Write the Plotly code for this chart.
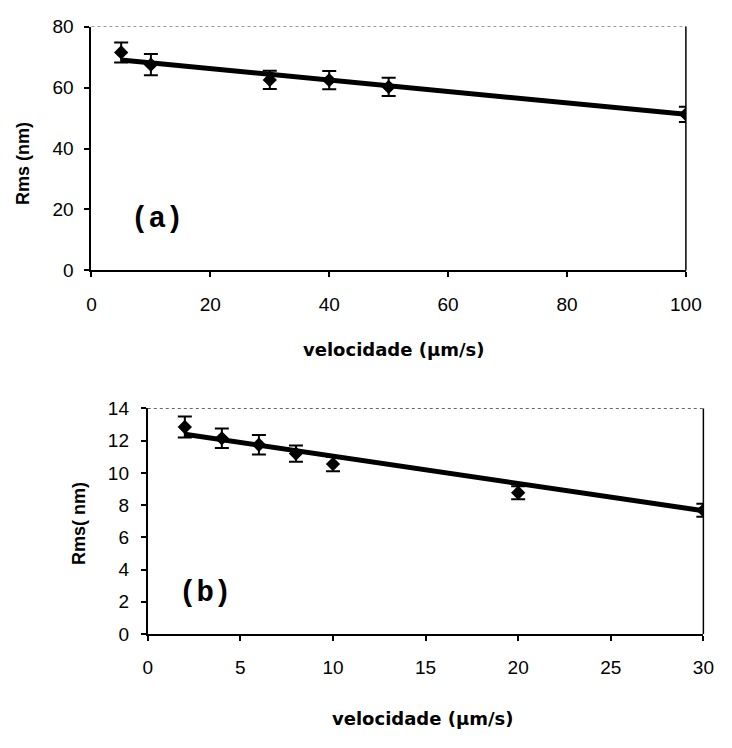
import plotly.graph_objects as go

# ---- data (a) ----
vel_a = [5, 10, 30, 40, 50, 100]
rms_a = [71.5, 67.5, 62.5, 62.4, 60.2, 51.2]
err_a = [3.3, 3.5, 3.0, 3.0, 3.0, 2.5]
trend_a_x = [5, 100]
trend_a_y = [69.0, 51.2]
yticks_a = [0, 20, 40, 60, 80]
xticks_a = [0, 20, 40, 60, 80, 100]

# ---- data (b) ----
vel_b = [2, 4, 6, 8, 10, 20, 30]
rms_b = [12.85, 12.15, 11.75, 11.2, 10.55, 8.77, 7.68]
err_b = [0.65, 0.6, 0.6, 0.5, 0.45, 0.4, 0.4]
trend_b_x = [2, 30]
trend_b_y = [12.4, 7.65]
yticks_b = [0, 2, 4, 6, 8, 10, 12, 14]
xticks_b = [0, 5, 10, 15, 20, 25, 30]

W, H = 732, 748
tickfont = dict(family="Liberation Sans, Arial", size=19, color="black")

fig = go.Figure()

def add_panel(xs, ys, es, tx, ty, xa, ya):
    fig.add_trace(go.Scatter(x=tx, y=ty, mode="lines", line=dict(color="black", width=5),
                             xaxis=xa, yaxis=ya, showlegend=False, hoverinfo="skip"))
    fig.add_trace(go.Scatter(x=xs, y=ys, mode="markers",
                             marker=dict(symbol="diamond", size=11, color="black"),
                             error_y=dict(type="data", array=es, visible=True, color="black",
                                          thickness=2, width=7),
                             xaxis=xa, yaxis=ya, showlegend=False))

add_panel(vel_a, rms_a, err_a, trend_a_x, trend_a_y, "x", "y")
add_panel(vel_b, rms_b, err_b, trend_b_x, trend_b_y, "x2", "y2")

axis_common = dict(showgrid=False, zeroline=False, showline=True, linecolor="black",
                   linewidth=2, ticks="outside", tickcolor="black", tickwidth=2,
                   ticklen=5, tickfont=tickfont)

fig.update_layout(
    width=W, height=H, margin=dict(l=0, r=0, t=0, b=0),
    paper_bgcolor="white", plot_bgcolor="white",
    xaxis=dict(domain=[89 / W, 701 / W], range=[0, 100], tickvals=xticks_a,
               anchor="y", ticklabelstandoff=11, **axis_common),
    yaxis=dict(domain=[1 - 268 / H, 1 - 17 / H], range=[0, 80], tickvals=yticks_a,
               anchor="x", ticklabelstandoff=7, **axis_common),
    xaxis2=dict(domain=[147 / W, 719 / W], range=[0, 30], tickvals=xticks_b,
                anchor="y2", ticklabelstandoff=10, **axis_common),
    yaxis2=dict(domain=[1 - 642 / H, 1 - 410 / H], range=[0, 14], tickvals=yticks_b,
                anchor="x2", ticklabelstandoff=8, **axis_common),
)

# plot frame (top faint dotted, right solid)
for xr, yr, rc in [("x domain", "y domain", "#999"), ("x2 domain", "y2 domain", "#666")]:
    fig.add_shape(type="line", xref=xr, yref=yr, x0=0, x1=1, y0=1, y1=1,
                  line=dict(color=rc, width=1, dash="dot"))
    fig.add_shape(type="line", xref=xr, yref=yr, x0=1, x1=1, y0=0, y1=1,
                  line=dict(color="black", width=1.5))

ytitle_font = dict(family="Liberation Sans, Arial", size=18, color="black")
xtitle_font = dict(family="DejaVu Sans", size=18, color="black")
label_font = dict(family="Liberation Mono, Courier New", size=29, color="black")
ann = [
    dict(text="<b>Rms (nm)</b>", x=18 / W, y=1 - 158 / H, textangle=-90, font=ytitle_font),
    dict(text="<b>velocidade (μm/s)</b>", x=400 / W, y=1 - 349 / H, font=xtitle_font),
    dict(text="<b>Rms( nm)</b>", x=76 / W, y=1 - 528 / H, textangle=-90, font=ytitle_font),
    dict(text="<b>velocidade (μm/s)</b>", x=430 / W, y=1 - 729 / H, font=xtitle_font),
    dict(text="<b>(a)</b>", x=157 / W, y=1 - 216 / H, font=label_font),
    dict(text="<b>(b)</b>", x=206 / W, y=1 - 600 / H, font=label_font),
]
for a in ann:
    fig.add_annotation(xref="paper", yref="paper", showarrow=False,
                       xanchor="center", yanchor="middle", **a)

fig.write_html("out.html", config={"displayModeBar": False},
               post_script="document.body.style.margin='0';document.body.style.overflow='hidden';")
